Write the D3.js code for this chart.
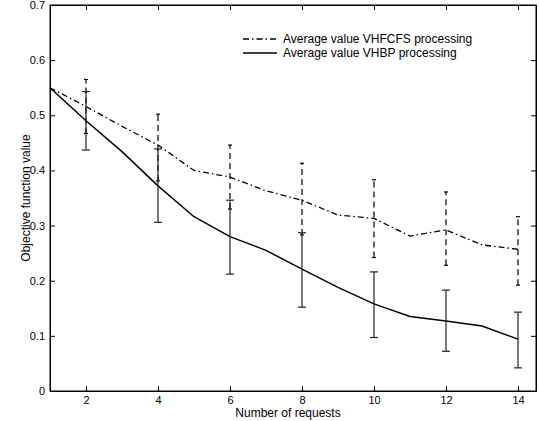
<!DOCTYPE html>
<html>
<head>
<meta charset="utf-8">
<script src="https://cdn.jsdelivr.net/npm/d3@7"></script>
<style>
  body { margin: 0; background: #fff; }
  text { font-family: "Liberation Sans", Arial, sans-serif; fill: #000; }
  .axis path, .axis line { stroke: #000; }
</style>
</head>
<body>
<script>
// number of requests
var requests = [1, 2, 3, 4, 5, 6, 7, 8, 9, 10, 11, 12, 13, 14];
// mean objective values
var vhfcfs = [0.55, 0.516, 0.48, 0.446, 0.40, 0.388, 0.363, 0.346, 0.319, 0.313, 0.281, 0.292, 0.265, 0.257];
var vhbp = [0.55, 0.49, 0.434, 0.372, 0.316, 0.28, 0.255, 0.221, 0.188, 0.158, 0.135, 0.127, 0.118, 0.094];
// error bars at even requests
var barX = [2, 4, 6, 8, 10, 12, 14];
var vhfcfsLow = [0.467, 0.381, 0.33, 0.283, 0.242, 0.228, 0.192];
var vhfcfsHigh = [0.565, 0.502, 0.446, 0.413, 0.383, 0.361, 0.316];
var vhbpLow = [0.437, 0.306, 0.212, 0.152, 0.097, 0.072, 0.042];
var vhbpHigh = [0.543, 0.439, 0.346, 0.287, 0.216, 0.183, 0.143];
var xTicks = [2, 4, 6, 8, 10, 12, 14];
var yTicks = [0, 0.1, 0.2, 0.3, 0.4, 0.5, 0.6, 0.7];
var legendLabels = ["Average value VHFCFS processing", "Average value VHBP processing"];

var width = 539, height = 421;
var padding = {left: 50, right: 3, top: 5, bottom: 30};

var svg = d3.select("body")
    .append("svg")
    .attr("width", width)
    .attr("height", height);

var x = d3.scaleLinear().domain([1, 14.5]).range([padding.left, width - padding.right]);
var y = d3.scaleLinear().domain([0, 0.7]).range([height - padding.bottom, padding.top]);

var dashDot = "6,3,1.5,3";

// axes, ticks pointing inward
svg.append("g")
  .attr("class", "axis")
  .attr("transform", "translate(0," + y(0) + ")")
  .call(d3.axisBottom(x).tickValues(xTicks).tickSizeInner(-5).tickSizeOuter(0).tickPadding(5).tickFormat(d3.format("d")))
  .call(function(g) { g.selectAll("text").style("font-size", "11px"); });

svg.append("g")
  .attr("class", "axis")
  .attr("transform", "translate(" + x(1) + ",0)")
  .call(d3.axisLeft(y).tickValues(yTicks).tickSizeInner(-5).tickSizeOuter(0).tickPadding(5).tickFormat(function(d) { return d === 0 ? "0" : d3.format(".1f")(d); }))
  .call(function(g) { g.selectAll("text").style("font-size", "11px"); });

svg.append("g")
  .attr("class", "axis")
  .attr("transform", "translate(0," + y(0.7) + ")")
  .call(d3.axisTop(x).tickValues(xTicks).tickSizeInner(-5).tickSizeOuter(0).tickFormat(""));

svg.append("g")
  .attr("class", "axis")
  .attr("transform", "translate(" + x(14.5) + ",0)")
  .call(d3.axisRight(y).tickValues(yTicks).tickSizeInner(-5).tickSizeOuter(0).tickFormat(""));

svg.append("rect")
  .attr("x", x(1)).attr("y", y(0.7))
  .attr("width", x(14.5) - x(1)).attr("height", y(0) - y(0.7))
  .attr("fill", "none").attr("stroke", "#000");

// lines
var line = d3.line()
  .x(function(d, i) { return x(requests[i]); })
  .y(function(d) { return y(d); });

svg.append("path")
  .datum(vhfcfs)
  .attr("d", line)
  .attr("fill", "none")
  .attr("stroke", "#000")
  .attr("stroke-width", 1.3)
  .attr("stroke-dasharray", dashDot);

svg.append("path")
  .datum(vhbp)
  .attr("d", line)
  .attr("fill", "none")
  .attr("stroke", "#000")
  .attr("stroke-width", 1.5);

// error bars
function errorBars(low, high, dash, color) {
  var g = svg.append("g")
    .attr("stroke", color)
    .attr("stroke-width", 1.2);
  g.selectAll(".v")
    .data(barX)
    .enter()
    .append("line")
    .attr("x1", function(d) { return x(d); })
    .attr("x2", function(d) { return x(d); })
    .attr("y1", function(d, i) { return y(low[i]); })
    .attr("y2", function(d, i) { return y(high[i]); })
    .attr("stroke-dasharray", dash);
  [low, high].forEach(function(arr) {
    g.selectAll(null)
      .data(barX)
      .enter()
      .append("line")
      .attr("x1", function(d) { return x(d) - (dash ? 2 : 4); })
      .attr("x2", function(d) { return x(d) + (dash ? 2 : 4); })
      .attr("y1", function(d, i) { return y(arr[i]); })
      .attr("y2", function(d, i) { return y(arr[i]); });
  });
}
errorBars(vhfcfsLow, vhfcfsHigh, "6,4", "#000");
errorBars(vhbpLow, vhbpHigh, null, "#222");

// legend
var legend = svg.append("g").attr("transform", "translate(243,39)");
legend.append("line")
  .attr("x1", 0).attr("x2", 34).attr("y1", 0).attr("y2", 0)
  .attr("stroke", "#000").attr("stroke-width", 1.3)
  .attr("stroke-dasharray", dashDot);
legend.append("line")
  .attr("x1", 0).attr("x2", 34).attr("y1", 14).attr("y2", 14)
  .attr("stroke", "#000").attr("stroke-width", 1.5);
legend.selectAll("text")
  .data(legendLabels)
  .enter()
  .append("text")
  .attr("x", 40)
  .attr("y", function(d, i) { return i * 14 + 4; })
  .style("font-size", "12px")
  .text(function(d) { return d; });

// axis titles
svg.append("text")
  .attr("x", 288)
  .attr("y", 417)
  .attr("text-anchor", "middle")
  .style("font-size", "12px")
  .text("Number of requests");

svg.append("text")
  .attr("transform", "translate(30," + (y(0.35)) + ") rotate(-90)")
  .attr("text-anchor", "middle")
  .style("font-size", "12px")
  .text("Objective function value");
</script>
</body>
</html>
